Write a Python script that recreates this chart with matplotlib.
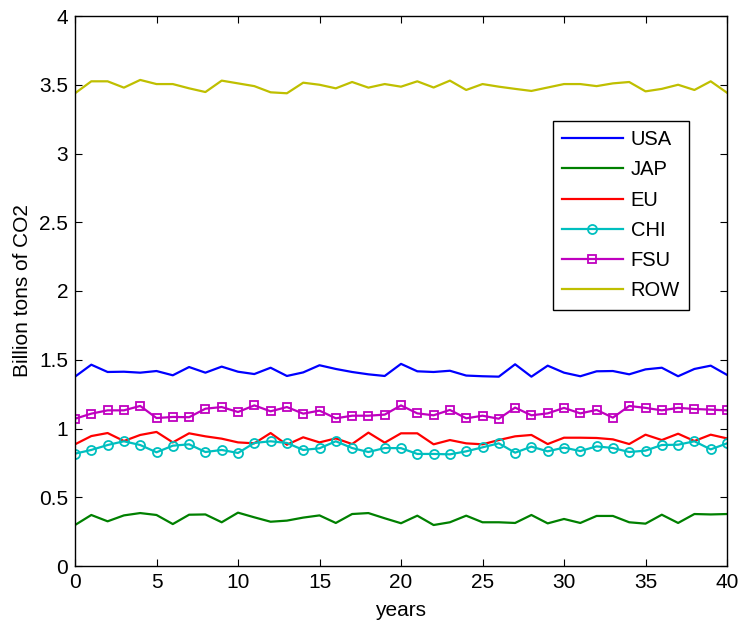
import matplotlib
matplotlib.use("Agg")
import matplotlib.pyplot as plt
import numpy as np

plt.rcParams['font.family'] = ['Liberation Sans', 'DejaVu Sans']

years = list(range(41))
usa = [1.377, 1.464, 1.411, 1.413, 1.406, 1.418, 1.387, 1.447, 1.406, 1.450,
       1.413, 1.396, 1.442, 1.382, 1.408, 1.460, 1.433, 1.411, 1.394, 1.382,
       1.470, 1.416, 1.411, 1.420, 1.385, 1.380, 1.377, 1.467, 1.377, 1.457,
       1.406, 1.380, 1.416, 1.418, 1.394, 1.430, 1.442, 1.380, 1.433, 1.457,
       1.390]
jap = [0.298, 0.371, 0.325, 0.368, 0.385, 0.371, 0.305, 0.373, 0.375, 0.318,
       0.388, 0.354, 0.322, 0.330, 0.352, 0.368, 0.313, 0.378, 0.385, 0.347,
       0.311, 0.366, 0.298, 0.318, 0.366, 0.318, 0.318, 0.313, 0.371, 0.310,
       0.342, 0.313, 0.364, 0.364, 0.318, 0.308, 0.373, 0.313, 0.378, 0.375,
       0.378]
eu = [0.885, 0.945, 0.967, 0.909, 0.953, 0.975, 0.899, 0.965, 0.943, 0.926,
      0.899, 0.892, 0.967, 0.882, 0.936, 0.899, 0.928, 0.887, 0.970, 0.897,
      0.965, 0.965, 0.885, 0.916, 0.892, 0.885, 0.916, 0.943, 0.953, 0.887,
      0.933, 0.933, 0.931, 0.921, 0.887, 0.955, 0.916, 0.962, 0.909, 0.955,
      0.928]
chi = [0.817, 0.844, 0.880, 0.907, 0.880, 0.827, 0.875, 0.885, 0.829, 0.844,
       0.822, 0.895, 0.907, 0.895, 0.844, 0.856, 0.907, 0.858, 0.829, 0.858,
       0.857, 0.815, 0.815, 0.812, 0.834, 0.863, 0.892, 0.824, 0.868, 0.834,
       0.861, 0.836, 0.870, 0.858, 0.829, 0.839, 0.880, 0.882, 0.907, 0.848,
       0.892]
fsu = [1.071, 1.108, 1.132, 1.132, 1.164, 1.076, 1.084, 1.082, 1.144, 1.156,
       1.120, 1.168, 1.125, 1.156, 1.108, 1.130, 1.074, 1.093, 1.093, 1.101,
       1.168, 1.110, 1.096, 1.135, 1.074, 1.093, 1.071, 1.152, 1.096, 1.110,
       1.150, 1.110, 1.135, 1.079, 1.164, 1.150, 1.132, 1.150, 1.142, 1.137,
       1.132]
row = [3.438, 3.525, 3.525, 3.479, 3.535, 3.505, 3.505, 3.474, 3.447, 3.530,
       3.510, 3.490, 3.445, 3.438, 3.515, 3.500, 3.474, 3.520, 3.479, 3.505,
       3.486, 3.525, 3.480, 3.530, 3.462, 3.505, 3.486, 3.470, 3.455, 3.480,
       3.505, 3.505, 3.490, 3.510, 3.520, 3.452, 3.470, 3.500, 3.462, 3.525,
       3.442]

labels = ['USA', 'JAP', 'EU', 'CHI', 'FSU', 'ROW']
colors = ['#0000ff', '#008000', '#ff0000', '#00bfbf', '#bf00bf', '#bfbf00']
xticks = [0, 5, 10, 15, 20, 25, 30, 35, 40]
yticks = [0, 0.5, 1, 1.5, 2, 2.5, 3, 3.5, 4]
yticklabels = ['0', '0.5', '1', '1.5', '2', '2.5', '3', '3.5', '4']

fig = plt.figure(figsize=(7.39, 6.23), dpi=100)
ax = fig.add_axes([75/739, 57/623, 652/739, 550/623])

series = [usa, jap, eu, chi, fsu, row]
markers = [None, None, None, 'o', 's', None]
msizes = [0, 0, 0, 6.5, 5.5, 0]
for s, lab, c, m, ms in zip(series, labels, colors, markers, msizes):
    if m:
        ax.plot(years, s, color=c, lw=1.6, marker=m, ms=ms, mfc='none',
                mew=1.3, label=lab)
    else:
        ax.plot(years, s, color=c, lw=1.6, label=lab)

ax.set_xlim(0, 40)
ax.set_ylim(0, 4)
ax.set_xticks(xticks)
ax.set_yticks(yticks)
ax.set_yticklabels(yticklabels)
ax.tick_params(direction='in', top=True, right=True, labelsize=15, length=5,
               width=0.8, pad=5)
for sp in ax.spines.values():
    sp.set_linewidth(1.0)
ax.set_xlabel('years', fontsize=15, labelpad=6.5)
ax.set_ylabel('Billion tons of CO2', fontsize=15, labelpad=5)

leg = ax.legend(loc='upper right', bbox_to_anchor=((689-75)/652, (566-121)/550),
                borderaxespad=0, fontsize=14.5, fancybox=False, framealpha=1,
                edgecolor='black', handlelength=3.0, labelspacing=0.56,
                borderpad=0.45, handletextpad=0.4)
leg.get_frame().set_linewidth(1.0)

fig.savefig('out.png', dpi=100)
